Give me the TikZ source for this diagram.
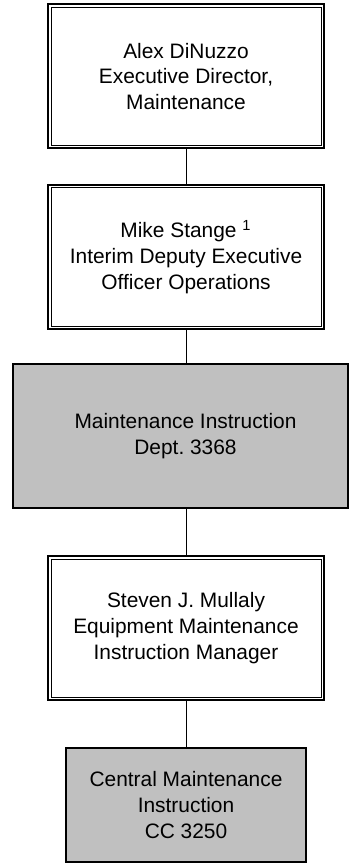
\documentclass[tikz,border=0pt]{standalone}
\usepackage{fontspec}
\setmainfont{Liberation Sans}
\usetikzlibrary{positioning, calc}

\definecolor{unitgray}{RGB}{192,192,192}
\frenchspacing

\begin{document}
\begin{tikzpicture}[x=0.5pt, y=-0.5pt,
	every node/.style={font=\fontsize{10.45}{12.85}\selectfont, align=center, inner sep=0pt},
	person/.style={draw, line width=1pt, fill=white, minimum width=138pt, minimum height=72pt},
	unit/.style={draw, line width=0.8pt, fill=unitgray},
	link/.style={line width=0.5pt}]
	\useasboundingbox (0,0) rectangle (349,866);
	% ---- boxes ----
	\node[person] (dir) at (186,76.5) {Alex DiNuzzo\\Executive Director,\\Maintenance};
	\node[person] (dep) at (186,257) {Mike Stange \textsuperscript{1}\\Interim Deputy Executive\\Officer Operations};
	\node[unit, minimum width=167.5pt, minimum height=72pt] (dept) at (180.5,436) {\hspace*{5pt}Maintenance Instruction\\\hspace*{5pt}Dept. 3368};
	\node[person] (mgr) at (186,628) {Steven J. Mullaly\\Equipment Maintenance\\Instruction Manager};
	\node[unit, minimum width=120pt, minimum height=57pt] (cmi) at (186,805) {Central Maintenance\\Instruction\\CC 3250};
	% ---- inner frame of the double border ----
	\foreach \n in {dir, dep, mgr}{
		\draw[line width=0.5pt] ([shift={(2pt,-2pt)}]\n.north west) rectangle ([shift={(-2pt,2pt)}]\n.south east);
	}
	% ---- connectors ----
	\draw[link] (dir) -- (dep);
	\draw[link] (dep.south) -- (dep.south |- dept.north);
	\draw[link] (mgr.north) -- (mgr.north |- dept.south);
	\draw[link] (mgr) -- (cmi);
\end{tikzpicture}
\end{document}
